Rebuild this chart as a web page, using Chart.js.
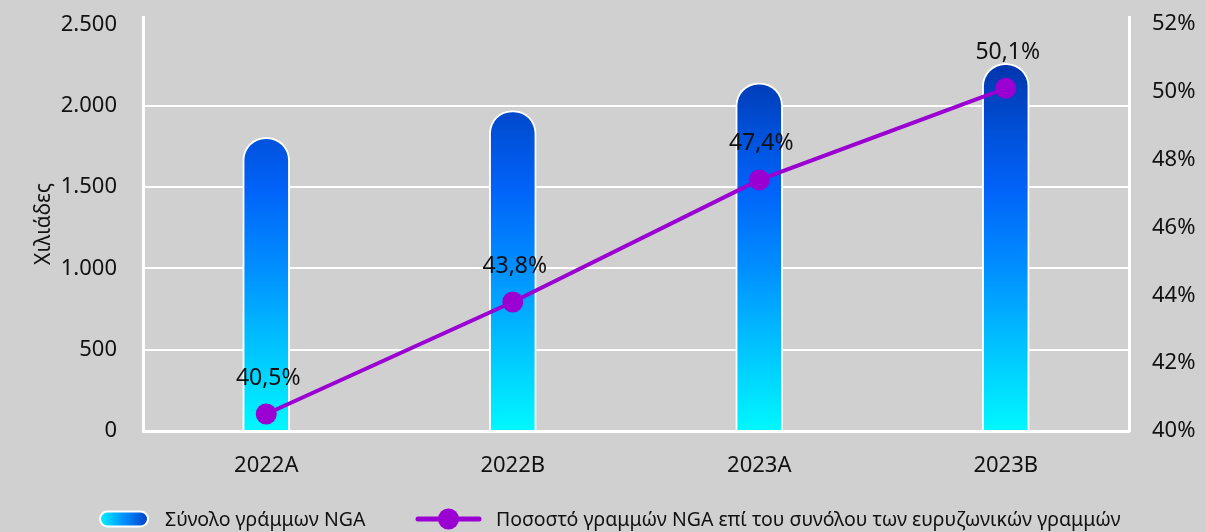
<!DOCTYPE html>
<html>
<head>
<meta charset="utf-8">
<script src="https://cdn.jsdelivr.net/npm/chart.js@4.4.1/dist/chart.umd.min.js"></script>
<style>
  html, body { margin: 0; padding: 0; background: #d0d0d0; }
  #wrap { width: 1206px; height: 532px; position: relative; }
</style>
</head>
<body>
<div id="wrap"><canvas id="c" width="1206" height="532"></canvas></div>
<script>
// Periods shown on the category axis
const periods = ['2022A', '2022B', '2023A', '2023B'];
// Total NGA lines, thousands
const ngaLines = [1805, 1970, 2140, 2260];
// Share of NGA lines in all broadband lines, %
const ngaShare = [40.5, 43.8, 47.4, 50.1];
// Tick values of the two value axes
const linesTicks = [0, 500, 1000, 1500, 2000, 2500];
const shareTicks = [40, 42, 44, 46, 48, 50, 52];

const seriesNames = ['Σύνολο γράμμων NGA', 'Ποσοστό γραμμών NGA επί του συνόλου των ευρυζωνικών γραμμών'];
const axisTitle = 'Χιλιάδες';

const FONT = '"Noto Sans", "DejaVu Sans", sans-serif';
const PURPLE = '#9a00d2';

function barGradient(chart) {
  const area = chart.chartArea;
  if (!area) return '#0070ff';
  const y = chart.scales.y;
  const g = chart.ctx.createLinearGradient(0, y.getPixelForValue(0), 0, y.getPixelForValue(2300));
  g.addColorStop(0.00, '#00f8ff');
  g.addColorStop(0.22, '#00c4ff');
  g.addColorStop(0.43, '#0090ff');
  g.addColorStop(0.65, '#0062f8');
  g.addColorStop(0.80, '#0050d8');
  g.addColorStop(1.00, '#0032a8');
  return g;
}

function pct(v) {
  return v.toFixed(1).replace('.', ',') + '%';
}

function thousands(v) {
  return String(Math.round(v)).replace(/\B(?=(\d{3})+(?!\d))/g, '.');
}

function fixedTicks(values) {
  return (scale) => {
    scale.ticks = values.map(v => ({ value: v }));
  };
}

// Labels above the share markers
const pointLabels = {
  id: 'pointLabels',
  afterDatasetsDraw(chart) {
    const meta = chart.getDatasetMeta(1);
    const ctx = chart.ctx;
    ctx.save();
    ctx.font = '23px ' + FONT;
    ctx.fillStyle = '#111';
    ctx.textAlign = 'center';
    ctx.textBaseline = 'middle';
    meta.data.forEach((pt, i) => {
      ctx.fillText(pct(ngaShare[i]), pt.x + 2, pt.y - 36);
    });
    ctx.restore();
  }
};

// Legend row under the chart
const legendRow = {
  id: 'legendRow',
  afterDraw(chart) {
    const ctx = chart.ctx;
    const cy = 519;
    ctx.save();
    ctx.font = '19.5px ' + FONT;
    ctx.textBaseline = 'middle';
    ctx.fillStyle = '#111';

    // bar swatch: rounded pill with gradient
    const px = 100, pw = 48, ph = 15;
    const lg = ctx.createLinearGradient(px, 0, px + pw, 0);
    lg.addColorStop(0, '#00f4ff');
    lg.addColorStop(0.5, '#0090ff');
    lg.addColorStop(1, '#0040c8');
    ctx.beginPath();
    ctx.roundRect(px, cy - ph / 2, pw, ph, ph / 2);
    ctx.fillStyle = lg;
    ctx.fill();
    ctx.lineWidth = 2;
    ctx.strokeStyle = '#ffffff';
    ctx.stroke();
    ctx.fillStyle = '#111';
    ctx.fillText(seriesNames[0], 165, cy + 1);

    // line swatch
    ctx.strokeStyle = PURPLE;
    ctx.lineWidth = 5;
    ctx.lineCap = 'round';
    ctx.beginPath();
    ctx.moveTo(418, cy);
    ctx.lineTo(479, cy);
    ctx.stroke();
    ctx.fillStyle = PURPLE;
    ctx.beginPath();
    ctx.arc(448.5, cy, 10.5, 0, Math.PI * 2);
    ctx.fill();
    ctx.fillStyle = '#111';
    ctx.fillText(seriesNames[1], 496, cy + 1);
    ctx.restore();
  }
};

Chart.defaults.font.family = FONT;
Chart.defaults.color = '#111';

new Chart(document.getElementById('c'), {
  type: 'bar',
  data: {
    labels: periods,
    datasets: [
      {
        type: 'bar',
        label: seriesNames[0],
        data: ngaLines,
        yAxisID: 'y',
        backgroundColor: (c) => barGradient(c.chart),
        borderColor: '#ffffff',
        borderWidth: 2,
        borderSkipped: 'bottom',
        borderRadius: { topLeft: 23, topRight: 23, bottomLeft: 0, bottomRight: 0 },
        barThickness: 47,
        order: 2
      },
      {
        type: 'line',
        label: seriesNames[1],
        data: ngaShare,
        yAxisID: 'y1',
        borderColor: PURPLE,
        backgroundColor: PURPLE,
        borderWidth: 4,
        pointRadius: 10.5,
        pointHoverRadius: 10.5,
        pointBackgroundColor: PURPLE,
        pointBorderWidth: 0,
        tension: 0,
        order: 1
      }
    ]
  },
  options: {
    responsive: false,
    animation: false,
    events: [],
    layout: { padding: { top: 17, bottom: 60, left: 0, right: 0 } },
    plugins: {
      legend: { display: false },
      tooltip: { enabled: false }
    },
    scales: {
      x: {
        offset: true,
        grid: { display: false, drawTicks: false },
        border: { display: true, color: '#ffffff', width: 3 },
        ticks: { font: { size: 22 }, padding: 22, color: '#111' },
        afterFit: (s) => { s.height = 41; s.paddingLeft = 0; s.paddingRight = 0; }
      },
      y: {
        position: 'left',
        min: 0,
        max: 2545,
        afterBuildTicks: fixedTicks(linesTicks),
        ticks: {
          autoSkip: false,
          padding: 26,
          font: { size: 22 },
          color: '#111',
          callback: (v) => thousands(v)
        },
        grid: {
          color: (c) => (c.tick && c.tick.value === 2500) ? 'rgba(0,0,0,0)' : '#ffffff',
          lineWidth: 2,
          drawTicks: false
        },
        border: { display: true, color: '#ffffff', width: 3 },
        title: {
          display: true,
          text: axisTitle,
          font: { size: 21 },
          color: '#111',
          padding: { top: 31, bottom: 0 }
        },
        afterFit: (s) => { s.width = 143; s.paddingTop = 0; s.paddingBottom = 0; }
      },
      y1: {
        position: 'right',
        min: 40,
        max: 52.2,
        afterBuildTicks: fixedTicks(shareTicks),
        ticks: {
          autoSkip: false,
          padding: 23,
          font: { size: 22 },
          color: '#111',
          callback: (v) => Math.round(v) + '%'
        },
        grid: { display: false, drawTicks: false },
        border: { display: true, color: '#ffffff', width: 3 },
        afterFit: (s) => { s.width = 77; s.paddingTop = 0; s.paddingBottom = 0; }
      }
    }
  },
  plugins: [pointLabels, legendRow]
});
</script>
</body>
</html>
